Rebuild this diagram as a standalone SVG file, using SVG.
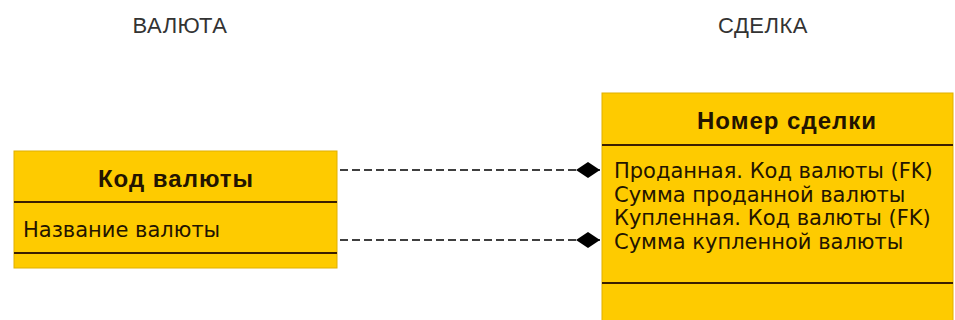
<svg xmlns="http://www.w3.org/2000/svg" width="955" height="320" viewBox="0 0 955 320">
<defs>
<style>
.box{fill:#FECB00;stroke:#E0B000;stroke-width:1}
.sep{stroke:#3A1E00;stroke-width:2}
.t{font-family:"Liberation Sans",Arial,sans-serif;fill:#231400}
.hd{font-weight:bold;font-size:24px;letter-spacing:1px}
.at{font-family:"DejaVu Sans",Verdana,sans-serif;font-size:21px}
.title{font-family:"Liberation Sans",Arial,sans-serif;font-size:22px;letter-spacing:0.5px;fill:#333}
.conn{stroke:#000;stroke-width:1.5;stroke-dasharray:8 4;fill:none}
</style>
<marker id="dia" markerWidth="26" markerHeight="18" refX="24" refY="9" orient="auto" markerUnits="userSpaceOnUse">
<path d="M0,9 L12,1 L24,9 L12,17 Z" fill="#000"/>
</marker>
</defs>
<rect width="955" height="320" fill="#fff"/>
<text class="title" x="180" y="33" text-anchor="middle">ВАЛЮТА</text>
<text class="title" x="763" y="33" text-anchor="middle">СДЕЛКА</text>
<g id="valuta">
<rect class="box" x="14" y="151" width="323" height="117"/>
<line class="sep" x1="14" y1="202" x2="337" y2="202"/>
<line class="sep" x1="14" y1="253" x2="337" y2="253"/>
<text class="t hd" x="176" y="187" text-anchor="middle">Код валюты</text>
<text class="t at" x="23" y="237">Название валюты</text>
</g>
<g id="sdelka">
<rect class="box" x="602" y="93" width="351" height="240"/>
<line class="sep" x1="602" y1="145" x2="953" y2="145"/>
<line class="sep" x1="602" y1="283" x2="953" y2="283"/>
<text class="t hd" x="787" y="129" text-anchor="middle">Номер сделки</text>
<text class="t at" x="614" y="178">Проданная. Код валюты (FK)</text>
<text class="t at" x="614" y="201.5">Сумма проданной валюты</text>
<text class="t at" x="614" y="225">Купленная. Код валюты (FK)</text>
<text class="t at" x="614" y="248.5">Сумма купленной валюты</text>
</g>
<g id="connectors">
<path class="conn" d="M340,170 H600" marker-end="url(#dia)"/>
<path class="conn" d="M340,240 H600" marker-end="url(#dia)"/>
</g>
</svg>
